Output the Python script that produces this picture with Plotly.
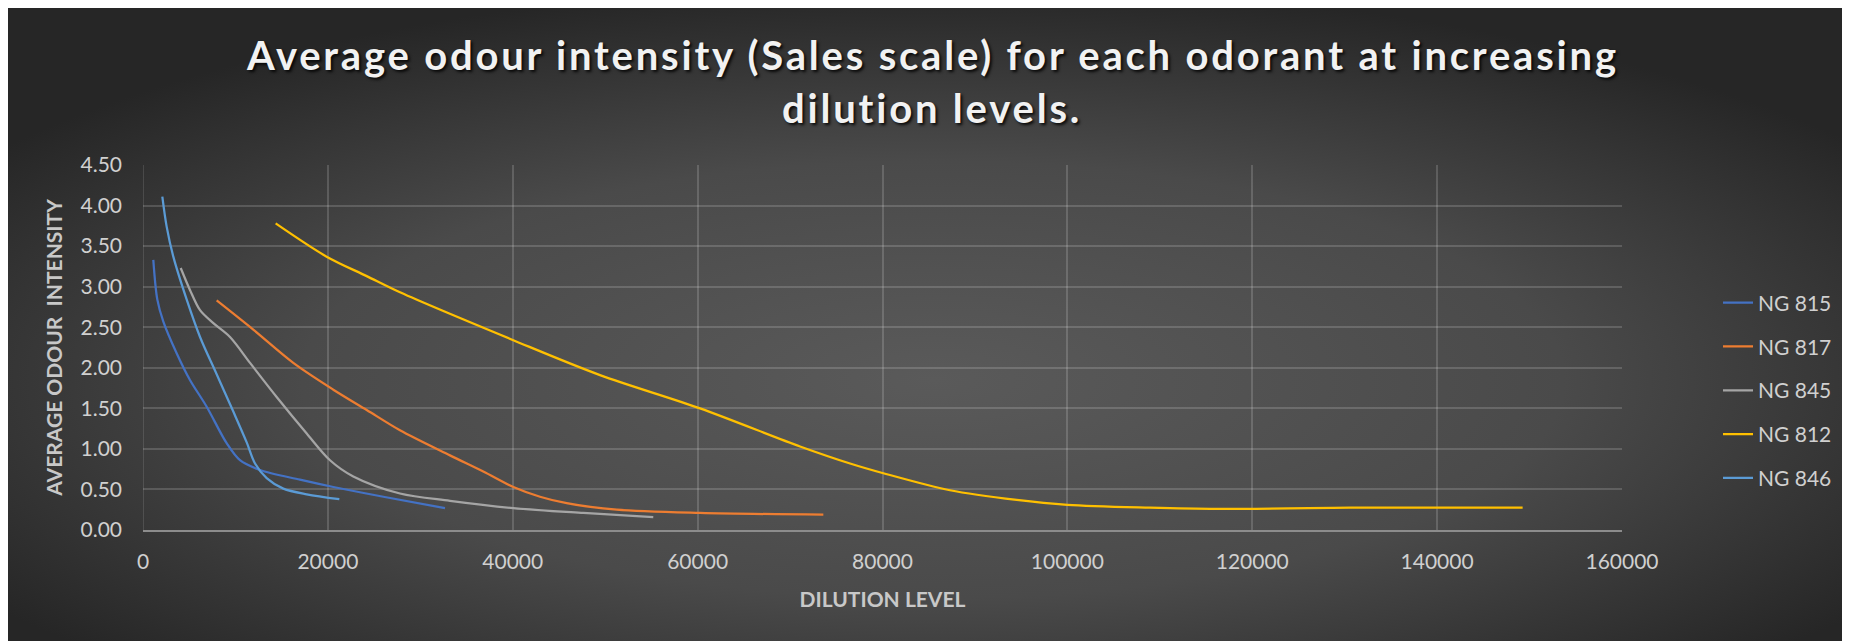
import base64
import plotly.graph_objects as go

# ---------------- data ----------------
ng815_x = [1115, 1550, 2200, 3640, 5080, 6890, 9050, 10490, 12660, 16980, 20590, 26000, 32670]
ng815_y = [3.33, 2.84, 2.57, 2.18, 1.85, 1.52, 1.07, 0.86, 0.74, 0.62, 0.53, 0.41, 0.27]

ng817_x = [7970, 11930, 16260, 20590, 24200, 27800, 33210, 36810, 40060, 42950, 45840, 51250, 60260, 73600]
ng817_y = [2.83, 2.47, 2.06, 1.73, 1.48, 1.23, 0.92, 0.72, 0.53, 0.41, 0.33, 0.25, 0.21, 0.19]

ng845_x = [4080, 5080, 6170, 7610, 9410, 11580, 14460, 17710, 20230, 22750, 27800, 33210, 40060, 47630, 55200]
ng845_y = [3.23, 2.96, 2.71, 2.55, 2.38, 2.06, 1.64, 1.19, 0.86, 0.66, 0.45, 0.36, 0.27, 0.21, 0.16]

ng812_x = [14350, 19870, 24200, 27800, 40060, 49440, 60260, 71080, 76490, 80090, 87300, 94520,
           100000, 108940, 116150, 130580, 149250]
ng812_y = [3.78, 3.37, 3.13, 2.93, 2.34, 1.91, 1.50, 1.03, 0.82, 0.70, 0.49, 0.37,
           0.31, 0.275, 0.26, 0.275, 0.275]

ng846_x = [2090, 2560, 3280, 4730, 6170, 7970, 9770, 11220, 12120, 13380, 15180, 17710, 21240]
ng846_y = [4.11, 3.74, 3.37, 2.84, 2.38, 1.92, 1.46, 1.08, 0.82, 0.64, 0.51, 0.44, 0.38]

series_names = ["NG 815", "NG 817", "NG 845", "NG 812", "NG 846"]
series_x = [ng815_x, ng817_x, ng845_x, ng812_x, ng846_x]
series_y = [ng815_y, ng817_y, ng845_y, ng812_y, ng846_y]
series_colors = ["#4472C4", "#ED7D31", "#A5A5A5", "#FFC000", "#5B9BD5"]

title_lines = ["Average odour intensity (Sales scale) for each odorant at increasing",
               "dilution levels."]
x_title = "DILUTION LEVEL"
y_title = "AVERAGE ODOUR  INTENSITY"

# ---------------- geometry (figure coords; page adds an 8px body margin) ----------------
W, H = 1850, 641
OFF = 8
L, R, T, B = 143 - OFF, 1622 - OFF, 165 - OFF, 530 - OFF
pw, ph = R - L, B - T

FONT = "Lato, 'Open Sans', sans-serif"

fig = go.Figure()
for name, xs, ys, col in zip(series_names, series_x, series_y, series_colors):
    fig.add_trace(go.Scatter(
        x=xs, y=ys, name=name, mode="lines", legendgroup=name,
        line=dict(color=col, width=2.25, shape="spline", smoothing=0.9),
    ))

# radial gradient background as svg image
svg = f'''<svg xmlns="http://www.w3.org/2000/svg" width="{W}" height="{H}" viewBox="0 0 {W} {H}" preserveAspectRatio="none">
<defs><radialGradient id="g" cx="0.5" cy="0.58" r="0.62" fx="0.5" fy="0.58">
<stop offset="0" stop-color="#5a5a5a"/><stop offset="0.55" stop-color="#4a4a4a"/><stop offset="1" stop-color="#262626"/>
</radialGradient></defs><rect width="{W}" height="{H}" fill="url(#g)"/></svg>'''
src = "data:image/svg+xml;base64," + base64.b64encode(svg.encode()).decode()

fig.add_layout_image(dict(
    source=src, xref="paper", yref="paper",
    x=-L / pw, y=1 + T / ph,
    sizex=W / pw, sizey=H / ph,
    xanchor="left", yanchor="top", sizing="stretch", layer="below",
))

title_font = dict(family=FONT, size=40, color="#f2f2f2", weight="bold",
                  shadow="2px 2px 3px rgba(0,0,0,0.85)")
for txt, py in zip(title_lines, [55, 108]):
    fig.add_annotation(
        text=f'<span style="letter-spacing:2.8px">{txt}</span>',
        xref="paper", yref="paper",
        x=(932 - OFF - L) / pw, y=(B - (py - OFF)) / ph,
        xanchor="center", yanchor="middle", showarrow=False,
        font=title_font,
    )

grid = "rgba(255,255,255,0.16)"
fig.update_xaxes(
    range=[0, 160000], dtick=20000, tickformat="d",
    showgrid=True, gridcolor=grid, gridwidth=1.5,
    showline=True, linecolor="#8c8c8c", linewidth=2,
    zeroline=False, ticks="", ticklabelstandoff=12,
    tickfont=dict(family=FONT, size=21, color="#d0d0d0"),
    title=dict(text=x_title, standoff=20,
               font=dict(family=FONT, size=21, color="#c8c8c8", weight="bold")),
)
fig.update_yaxes(
    range=[0, 4.5], dtick=0.5, tickformat=".2f",
    showgrid=True, gridcolor=grid, gridwidth=1.5,
    showline=False, zeroline=False, ticks="", ticklabelstandoff=20,
    tickfont=dict(family=FONT, size=21, color="#d0d0d0"),
    title=dict(text=y_title, standoff=12,
               font=dict(family=FONT, size=21, color="#c8c8c8", weight="bold")),
)
# vertical line at x=0 like a gridline
fig.add_shape(type="line", xref="x", yref="paper", x0=0, x1=0, y0=0, y1=1,
              line=dict(color=grid, width=1.5), layer="below")

fig.update_layout(
    width=W, height=H,
    margin=dict(l=L, r=W - R, t=T, b=H - B),
    paper_bgcolor="#2a2a2a", plot_bgcolor="rgba(0,0,0,0)",
    showlegend=True,
    legend=dict(x=(1718 - OFF - L) / pw, y=(B - (390.5 - OFF)) / ph, xanchor="left", yanchor="middle",
                bgcolor="rgba(0,0,0,0)", tracegroupgap=13.5,
                font=dict(family=FONT, size=21, color="#d0d0d0")),
)

fig.write_html("out.html")
